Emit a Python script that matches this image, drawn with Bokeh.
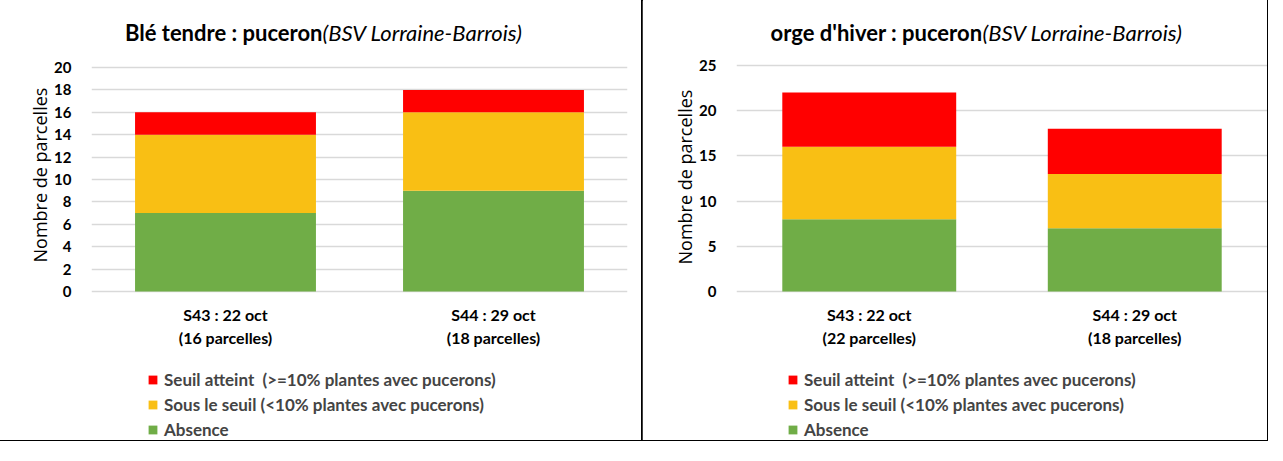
from bokeh.plotting import figure
from bokeh.layouts import row
from bokeh.models import (ColumnDataSource, FactorRange, Range1d, Label, Legend,
                          LegendItem, FixedTicker, Title)
from bokeh.core.properties import value
from bokeh.embed import file_html
from bokeh.resources import INLINE

# ---- data ----
series_names = ["Seuil atteint  (>=10% plantes avec pucerons)",
                "Sous le seuil (<10% plantes avec pucerons)",
                "Absence"]
ble_title = "Blé tendre : puceron"
ble_cats = ["S43 : 22 oct\n(16 parcelles)", "S44 : 29 oct\n(18 parcelles)"]
ble_absence = [7, 9]
ble_sous = [7, 7]
ble_seuil = [2, 2]
ble_ticks = [0, 2, 4, 6, 8, 10, 12, 14, 16, 18, 20]

orge_title = "orge d'hiver : puceron"
orge_cats = ["S43 : 22 oct\n(22 parcelles)", "S44 : 29 oct\n(18 parcelles)"]
orge_absence = [8, 7]
orge_sous = [8, 6]
orge_seuil = [6, 5]
orge_ticks = [0, 5, 10, 15, 20, 25]

subtitle = "(BSV Lorraine-Barrois)"
ylabel = "Nombre de parcelles"

GREEN = "#70ad47"
YELLOW = "#f9bf14"
RED = "#ff0000"
FONT = "Lato"
H = 440


def panel(title, cats, absence, sous, seuil, ticks, width, height, bl, br,
          top_px, zero_px, bar_w, junction_x, legend_x, ylab_start):
    ymax = ticks[-1]
    ppu = (zero_px - top_px) / ymax          # pixels per unit
    y_end = ymax + top_px / ppu
    y_start = -(height - zero_px) / ppu
    src = ColumnDataSource(dict(cats=cats, absence=absence, sous=sous, seuil=seuil,
                                base=[0] * len(cats)))
    p = figure(x_range=FactorRange(*cats), y_range=Range1d(y_start, y_end),
               width=width, height=height, output_backend="svg",
               toolbar_location=None, min_border_left=bl, min_border_right=br,
               min_border_top=0, min_border_bottom=0)
    rs = p.vbar_stack(["absence", "sous", "seuil"], x="cats", width=bar_w,
                      color=[GREEN, YELLOW, RED], source=src, line_color=None)
    p.outline_line_color = None
    p.xgrid.grid_line_color = None
    p.xaxis.visible = False
    p.ygrid.grid_line_color = "#d9d9d9"
    p.ygrid.grid_line_width = 1.5
    p.yaxis.ticker = FixedTicker(ticks=ticks)
    p.yaxis.axis_line_color = None
    p.yaxis.major_tick_line_color = None
    p.yaxis.minor_tick_line_color = None
    p.yaxis.major_label_text_font = FONT
    p.yaxis.major_label_text_font_style = "bold"
    p.yaxis.major_label_text_font_size = "15px"
    p.yaxis.major_label_text_color = "#000000"
    p.yaxis.major_label_standoff = 14

    # category labels under the bars
    p.text(x="cats", y="base", text="cats", source=src, y_offset=13,
           text_align="center", text_baseline="top", text_font=value(FONT),
           text_font_style="bold", text_font_size="16px", text_color="#000000",
           text_line_height=1.22)

    # y axis title
    p.add_layout(Title(text=ylabel, align="left", offset=height - ylab_start,
                       text_font="Open Sans", text_font_style="normal",
                       text_font_size="18px", text_color="#000000", standoff=0),
                 "left")

    # chart title (bold + italic)
    tx = junction_x - bl
    ty = height - 32
    p.add_layout(Label(x=tx, y=ty, x_units="screen", y_units="screen",
                       text=title, text_font=FONT, text_font_style="bold",
                       text_font_size="22px", text_align="right",
                       text_baseline="middle", text_color="#000000"))
    p.add_layout(Label(x=tx, y=ty, x_units="screen", y_units="screen",
                       text=subtitle, text_font=FONT, text_font_style="italic",
                       text_font_size="22px", text_align="left",
                       text_baseline="middle", text_color="#000000"))

    items = [LegendItem(label=series_names[0], renderers=[rs[2]]),
             LegendItem(label=series_names[1], renderers=[rs[1]]),
             LegendItem(label=series_names[2], renderers=[rs[0]])]
    leg = Legend(items=items, location=(legend_x, 0), orientation="vertical",
                 padding=0, margin=0, spacing=4, label_height=20,
                 glyph_height=11, glyph_width=11, label_standoff=6,
                 label_text_font=FONT, label_text_font_style="bold",
                 label_text_font_size="17px", border_line_color=None,
                 background_fill_alpha=0)
    p.add_layout(leg, "center")
    return p


p1 = panel(ble_title, ble_cats, ble_absence, ble_sous, ble_seuil, ble_ticks,
           642, H, 91, 15, 67, 291, 0.675, 322, 56, 262)
p2 = panel(orge_title, orge_cats, orge_absence, orge_sous, orge_seuil, orge_ticks,
           625, H, 94, 0, 65, 291, 0.655, 340, 51, 264)
p1.styles = {"outline": "1.5px solid #000000"}
p2.styles = {"outline": "1.5px solid #000000"}

layout = row(p1, p2)
open("out.html", "w").write(file_html(layout, INLINE))
